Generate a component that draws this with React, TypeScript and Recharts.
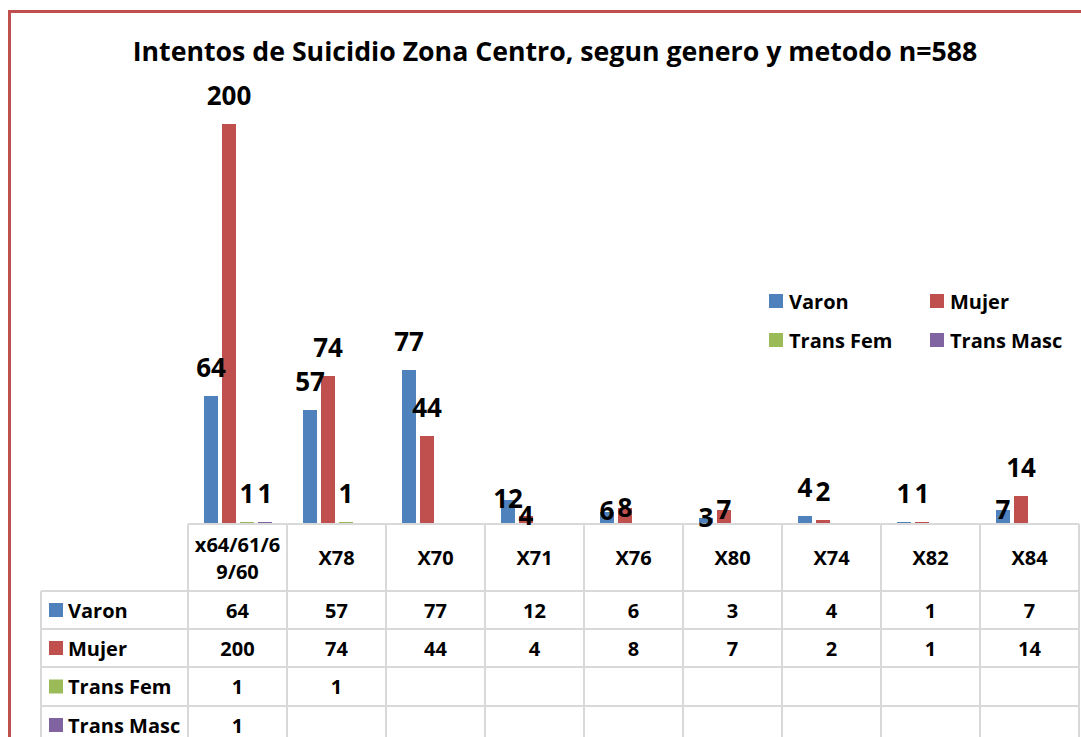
import React from "react";
import { BarChart, Bar, XAxis, YAxis, LabelList } from "recharts";

const categories = ["x64/61/69/60", "X78", "X70", "X71", "X76", "X80", "X74", "X82", "X84"];
const headerLines = [["x64/61/6", "9/60"], ["X78"], ["X70"], ["X71"], ["X76"], ["X80"], ["X74"], ["X82"], ["X84"]];
const varon = [64, 57, 77, 12, 6, 3, 4, 1, 7];
const mujer = [200, 74, 44, 4, 8, 7, 2, 1, 14];
const transFem = [1, 1, null, null, null, null, null, null, null];
const transMasc = [1, null, null, null, null, null, null, null, null];

const series = [
  { key: "Varon", values: varon, color: "#4f81bd" },
  { key: "Mujer", values: mujer, color: "#c0504d" },
  { key: "Trans Fem", values: transFem, color: "#9bbb59" },
  { key: "Trans Masc", values: transMasc, color: "#8064a2" },
];

// labels that sit right on the bar in the original (moved by hand in excel)
const labelDrop: Record<string, number> = {
  "X71|Varon": 27,
  "X71|Mujer": 28,
  "X76|Varon": 27,
  "X76|Mujer": 28,
  "X80|Varon": 28,
  "X80|Mujer": 28,
  "X84|Varon": 28,
};

const data = categories.map((cat, i) => {
  const row: Record<string, any> = { cat };
  series.forEach((s) => {
    row[s.key] = s.values[i];
  });
  return row;
});

const FONT = "'Open Sans', Lato, sans-serif";
const W = 1081;
const H = 737;
const MARGIN = { top: 124, right: 2, left: 188, bottom: 0 };
const CELL_W = (W - MARGIN.left - MARGIN.right) / categories.length;
const GRID = "#d9d9d9";
const ROW_H = [67, 38, 38, 39, 38];
const TABLE_LEFT = 41;
const BORDER = "#c0504d";

const makeLabel = (seriesKey: string) => (props: any) => {
  const { x, y, width, value, index } = props;
  if (value == null) return null;
  const drop = labelDrop[`${categories[index]}|${seriesKey}`] || 0;
  return (
    <text
      x={x + width / 2}
      y={y - 29 + drop}
      textAnchor="middle"
      dominantBaseline="central"
      fontFamily={FONT}
      fontWeight={700}
      fontSize={26}
      fill="#000"
    >
      {value}
    </text>
  );
};

const TableTick = (props: any) => {
  const { x, y, payload, index } = props;
  const i = index ?? payload.index;
  const left = x - CELL_W / 2;
  const right = x + CELL_W / 2;
  const rowTops: number[] = [];
  let acc = y;
  ROW_H.forEach((h) => {
    rowTops.push(acc);
    acc += h;
  });
  const bottom = H + 10;
  const lines = headerLines[i];
  return (
    <g fontFamily={FONT} fontWeight={700} fontSize={20} fill="#000">
      <line x1={left} x2={right} y1={y} y2={y} stroke={GRID} strokeWidth={2} />
      {rowTops.slice(1).map((t, r) => (
        <line key={r} x1={left} x2={right} y1={t} y2={t} stroke={GRID} strokeWidth={2} />
      ))}
      <line x1={left} x2={left} y1={y} y2={bottom} stroke={GRID} strokeWidth={2} />
      <line x1={right} x2={right} y1={y} y2={bottom} stroke={GRID} strokeWidth={2} />
      {lines.map((ln, k) => (
        <text
          key={k}
          x={x}
          y={y + ROW_H[0] / 2 + (k - (lines.length - 1) / 2) * 27}
          textAnchor="middle"
          dominantBaseline="central"
        >
          {ln}
        </text>
      ))}
      {series.map((s, r) => {
        const v = s.values[i];
        if (v == null) return null;
        return (
          <text
            key={s.key}
            x={x}
            y={rowTops[r + 1] + ROW_H[r + 1] / 2}
            textAnchor="middle"
            dominantBaseline="central"
          >
            {v}
          </text>
        );
      })}
      {/* left label column, drawn once */}
      {i === 0 && (
        <g>
          <line x1={TABLE_LEFT} x2={TABLE_LEFT} y1={rowTops[1]} y2={bottom} stroke={GRID} strokeWidth={2} />
          {series.map((s, r) => (
            <g key={s.key}>
              <line
                x1={TABLE_LEFT}
                x2={left}
                y1={rowTops[r + 1]}
                y2={rowTops[r + 1]}
                stroke={GRID}
                strokeWidth={2}
              />
              <rect
                x={49}
                y={rowTops[r + 1] + ROW_H[r + 1] / 2 - 7}
                width={14}
                height={14}
                fill={s.color}
              />
              <text x={68} y={rowTops[r + 1] + ROW_H[r + 1] / 2} dominantBaseline="central">
                {s.key}
              </text>
            </g>
          ))}
        </g>
      )}
    </g>
  );
};

const LegendBox = () => (
  <div
    style={{
      position: "absolute",
      left: 769,
      top: 288,
      display: "grid",
      gridTemplateColumns: "161px 150px",
      rowGap: 13,
      fontFamily: FONT,
      fontWeight: 700,
      fontSize: 20,
      color: "#000",
    }}
  >
    {series.map((s) => (
      <div key={s.key} style={{ display: "flex", alignItems: "center", height: 26 }}>
        <span style={{ width: 14, height: 14, background: s.color, marginRight: 6 }} />
        <span style={{ whiteSpace: "nowrap" }}>{s.key}</span>
      </div>
    ))}
  </div>
);

export default function App() {
  return (
    <div style={{ position: "relative", width: W, height: H, overflow: "hidden", background: "#fff" }}>
      <style>{`body{margin:0}`}</style>
      <div style={{ position: "absolute", left: 8, top: 10, width: 3, height: H, background: BORDER }} />
      <div style={{ position: "absolute", left: 8, top: 10, width: W, height: 3, background: BORDER }} />
      <div
        style={{
          position: "absolute",
          left: 0,
          width: 1110,
          top: 32,
          textAlign: "center",
          fontFamily: FONT,
          fontWeight: 700,
          fontSize: 26.7,
          color: "#000",
          whiteSpace: "nowrap",
        }}
      >
        Intentos de Suicidio Zona Centro, segun genero y metodo n=588
      </div>
      <div style={{ position: "absolute", left: 0, top: 0 }}>
        <BarChart width={W} height={H} data={data} margin={MARGIN} barSize={14} barGap={4}>
          <YAxis hide domain={[0, 200]} />
          <XAxis
            dataKey="cat"
            height={H - MARGIN.top - 400}
            interval={0}
            tickLine={false}
            axisLine={false}
            tickSize={0}
            tickMargin={0}
            tick={<TableTick />}
          />
          {series.map((s) => (
            <Bar key={s.key} dataKey={s.key} fill={s.color} isAnimationActive={false}>
              <LabelList dataKey={s.key} content={makeLabel(s.key)} />
            </Bar>
          ))}
        </BarChart>
      </div>
      <LegendBox />
    </div>
  );
}
